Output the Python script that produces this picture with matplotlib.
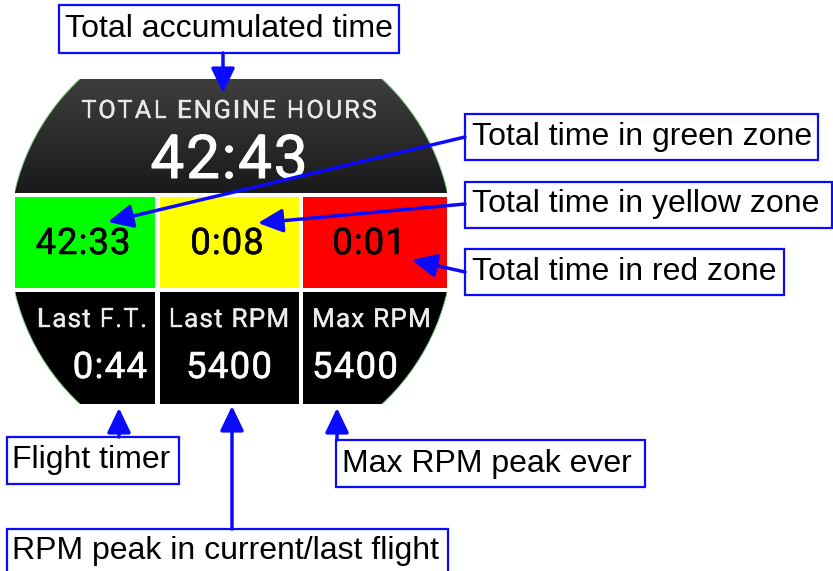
import numpy as np
import matplotlib
matplotlib.use("Agg")
import matplotlib.pyplot as plt
from matplotlib.patches import Rectangle, Circle
from matplotlib.colors import to_rgb
from matplotlib.font_manager import FontProperties
import matplotlib.patheffects as pe

# ---- data ----
header_title = "TOTAL ENGINE HOURS"
header_value = "42:43"
zone_values = ["42:33", "0:08", "0:01"]
zone_colors = ["#00ff00", "#ffff00", "#ff0000"]
stat_titles = ["Last F.T.", "Last RPM", "Max RPM"]
stat_values = ["0:44", "5400", "5400"]
callouts = ["Total accumulated time", "Total time in green zone",
            "Total time in yellow zone", "Total time in red zone",
            "Flight timer", "RPM peak in current/last flight",
            "Max RPM peak ever"]

W, H = 833, 571
fig = plt.figure(figsize=(W / 100, H / 100), dpi=100)
ax = fig.add_axes([0, 0, 1, 1])
ax.set_xlim(0, W)
ax.set_ylim(H, 0)
ax.axis("off")
renderer = fig.canvas.get_renderer()

BLUE = "#0a0aff"
WATCH_FONT = ["Roboto", "DejaVu Sans"]
LABEL_FONT = ["Liberation Sans", "DejaVu Sans"]


def tracked_text(x, y, s, ha, size, color, tracking, stroke=0.4, zorder=3):
    prop = FontProperties(family=WATCH_FONT, size=size, weight="normal")

    def w(t):
        return renderer.get_text_width_height_descent(t, prop, ismath=False)[0]

    total = w(s) + (len(s) - 1) * tracking
    if ha == "center":
        x0 = x - total / 2
    elif ha == "right":
        x0 = x - total
    else:
        x0 = x
    for i, ch in enumerate(s):
        if ch == " ":
            continue
        off = w(s[:i + 1]) - w(ch) + i * tracking
        ax.text(x0 + off, y, ch, ha="left", va="baseline", color=color,
                fontproperties=prop, zorder=zorder,
                path_effects=[pe.withStroke(linewidth=stroke, foreground=color)])


# watch geometry
cx, cy, R = 231, 241.5, 222
col_x = [(15, 155), (160, 299), (303, 447)]
circle = Circle((cx, cy), R, transform=ax.transData, facecolor="none", edgecolor="none")
ax.add_patch(circle)

# header with gradient
top_c = np.array(to_rgb("#3e3e3e"))
bot_c = np.array(to_rgb("#1a1a1a"))
t = np.linspace(0, 1, 120)[:, None, None]
grad = top_c * (1 - t) + bot_c * t
grad = np.repeat(grad, 2, axis=1)
im = ax.imshow(grad, extent=(15, 447, 193, 79), aspect="auto", origin="upper",
               interpolation="bilinear", zorder=1)
im.set_clip_path(circle)

tracked_text(229, 118, header_title, "center", 18.2, "#e8e8e8", 2.0, stroke=0.25)
tracked_text(229, 178, header_value, "center", 43.5, "white", 1.8, stroke=0.7)

# zone row
zone_cx = [83, 227, 369]
for (x0, x1), col, val, zx in zip(col_x, zone_colors, zone_values, zone_cx):
    ax.add_patch(Rectangle((x0, 197), x1 - x0, 91, facecolor=col, edgecolor="none", zorder=2))
    tracked_text(zx, 254, val, "center", 26.3, "black", 1.0, stroke=0.4)

# stats row
aligns = [("right", 147), ("center", 229), ("left", 312)]
for (x0, x1), title, val, (ha, tx) in zip(col_x, stat_titles, stat_values, aligns):
    r = Rectangle((x0, 292), x1 - x0, 112, facecolor="black", edgecolor="none", zorder=2)
    ax.add_patch(r)
    r.set_clip_path(circle)
    tracked_text(tx, 327, title, ha, 18.8, "#ececec", 1.2, stroke=0.25)
    tracked_text(tx, 378, val, ha, 26.3, "white", 1.3, stroke=0.4)

# faint green rim on curved edges
rim = Circle((cx, cy), R, facecolor="none", edgecolor="#8fcf8f", lw=0.7, zorder=2.5)
ax.add_patch(rim)
clip_rect = Rectangle((15, 79), 432, 325, transform=ax.transData, facecolor="none", edgecolor="none")
ax.add_patch(clip_rect)
rim.set_clip_path(clip_rect)

# callout boxes: (x0, y0, x1, y1, text_x, baseline)
boxes = [
    (59, 5, 399, 53, 65, 37),
    (465, 114, 818, 160, 472, 145),
    (465, 182, 832, 228, 472, 212),
    (465, 249, 784, 295, 472, 280),
    (7, 437, 179, 484, 12, 468),
    (7, 529, 448, 590, 12, 559),
    (336, 440, 645, 487, 342, 472),
]
for (x0, y0, x1, y1, tx, ty), label in zip(boxes, callouts):
    ax.add_patch(Rectangle((x0, y0), x1 - x0, y1 - y0, facecolor="white",
                           edgecolor=BLUE, lw=1.6, zorder=4))
    ax.text(tx, ty, label, ha="left", va="baseline", color="black",
            fontsize=23, family=LABEL_FONT, zorder=5)

# arrows (start -> tip)
arrows = [
    ((223, 53), (223, 93)),
    ((465, 137), (108, 222)),
    ((465, 204), (258, 223)),
    ((465, 272), (412, 260)),
    ((119, 437), (119, 408)),
    ((232, 529), (232, 406)),
    ((337, 440), (337, 408)),
]
for start, tip in arrows:
    ax.annotate("", xy=tip, xytext=start,
                arrowprops=dict(arrowstyle="-|>,head_length=0.75,head_width=0.36",
                                color=BLUE, lw=2.5, shrinkA=0, shrinkB=0,
                                mutation_scale=20),
                zorder=6)

fig.savefig("out.png", dpi=100, facecolor="white")
